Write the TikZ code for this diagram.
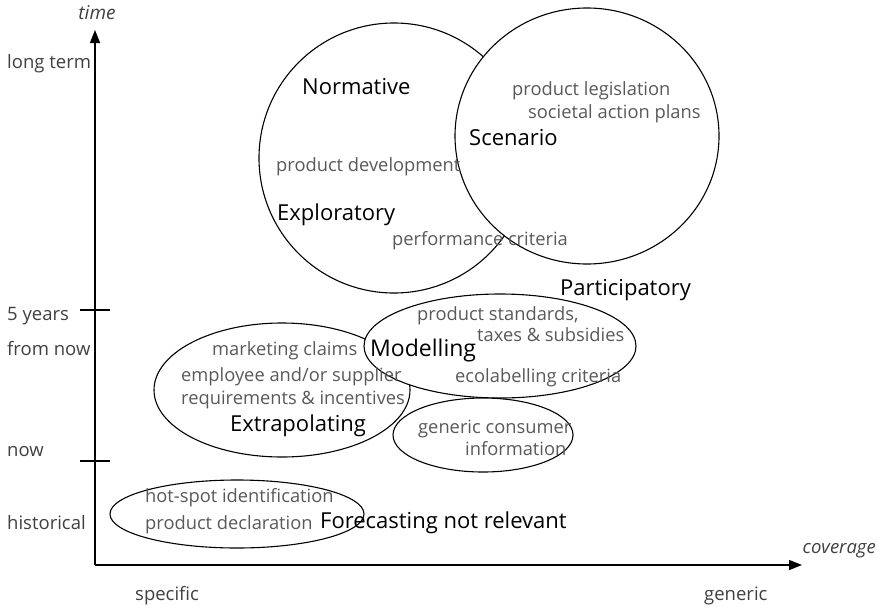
\documentclass[tikz,border=0pt]{standalone}
\usepackage{fontspec}
\setmainfont{Open Sans}
\usetikzlibrary{arrows.meta}

\begin{document}
\begin{tikzpicture}[
  x=1pt, y=-1pt,
  axis/.style={-{Triangle[length=13pt, width=10pt]}, line width=1.4pt},
  tickmark/.style={line width=1.4pt},
  region/.style={draw, fill=white, line width=1.1pt},
  scalelabel/.style={anchor=base west, inner sep=0pt, text=black!75, font=\fontsize{18.5}{18.5}\selectfont},
  item/.style={anchor=base west, inner sep=0pt, text=black!65, font=\fontsize{18.3}{18.3}\selectfont},
  method/.style={anchor=base west, inner sep=0pt, font=\fontsize{22}{22}\selectfont}
]
\useasboundingbox (0,0) rectangle (877,608);

% axes
\coordinate (origin) at (95,565);
\coordinate (timetop) at (95,30);
\coordinate (covend) at (802,565);
\draw[axis] (origin) -- (timetop);
\draw[axis] (origin) -- (covend);
\draw[tickmark] (80,310) -- (110,310);
\draw[tickmark] (80,461) -- (110,461);

\node[scalelabel, anchor=base, font=\itshape\fontsize{19}{19}\selectfont] (time) at (97,19) {time};
\node[scalelabel, anchor=base east, font=\itshape\fontsize{18.5}{18.5}\selectfont] (coverage) at (876,553) {coverage};

\node[scalelabel] (longterm) at (7,68) {long term};
\node[scalelabel] (fiveyears) at (7,320) {5 years};
\node[scalelabel] (fromnow) at (7,355) {from now};
\node[scalelabel] (now) at (7,456) {now};
\node[scalelabel] (historical) at (7,529) {historical};
\node[scalelabel] (specific) at (135,600) {specific};
\node[scalelabel] (generic) at (704,600) {generic};

% regions (later ones cover earlier ones)
\draw[region] (394,158) ellipse [x radius=135, y radius=135];
\draw[region] (587,136) ellipse [x radius=132, y radius=128];
\draw[region] (282,390) ellipse [x radius=128, y radius=67];
\draw[region] (500,346) ellipse [x radius=136, y radius=52];
\draw[region] (483,435) ellipse [x radius=90, y radius=37];
\draw[region] (237,514) ellipse [x radius=127, y radius=34];

% long term
\node[method] (normative) at (302,94) {Normative};
\node[item] (legislation) at (512,95) {product legislation};
\node[item] (actionplans) at (528,118) {societal action plans};
\node[method] (scenario) at (469,145) {Scenario};
\node[item] (development) at (276,171) {product development};
\node[method] (exploratory) at (277,220) {Exploratory};
\node[item] (performance) at (392,245) {performance criteria};
\node[method] (participatory) at (560,295) {Participatory};

% 5 years from now
\node[item] (standards) at (417,320) {product standards,};
\node[item] (taxes) at (477,341) {taxes \& subsidies};
\node[method, font=\fontsize{23}{23}\selectfont] (modelling) at (370,356) {Modelling};
\node[item] (ecolabelling) at (455,382) {ecolabelling criteria};
\node[item] (marketing) at (212,355) {marketing claims};
\node[item] (employee) at (181,381) {employee and/or supplier};
\node[item] (incentives) at (181,404) {requirements \& incentives};
\node[method] (extrapolating) at (230,431) {Extrapolating};
\node[item] (consumer) at (418,433) {generic consumer};
\node[item] (information) at (465,455) {information};

% historical
\node[item] (hotspot) at (145,502) {hot-spot identification};
\node[item] (declaration) at (145,529) {product declaration};
\node[method] (notrelevant) at (320,528) {Forecasting not relevant};
\end{tikzpicture}
\end{document}
